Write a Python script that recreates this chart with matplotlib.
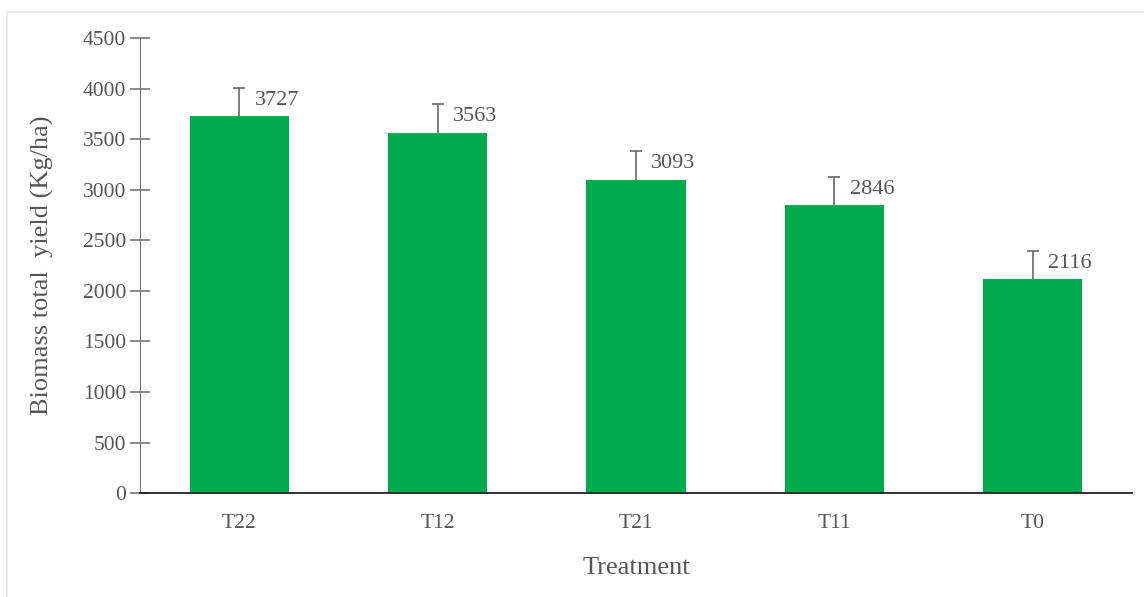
import numpy as np
import matplotlib
matplotlib.use('Agg')
from matplotlib import pyplot as plt
from matplotlib.patches import Rectangle

# data
treatments = ['T22', 'T12', 'T21', 'T11', 'T0']
yields = [3727, 3563, 3093, 2846, 2116]
errors = [280, 285, 290, 280, 280]

plt.rcParams['font.family'] = ['Liberation Serif', 'DejaVu Serif']
txt = '#555555'

fig = plt.figure(figsize=(11.44, 5.97), dpi=100)
ax = fig.add_axes([0.1224, 0.174, 0.8671, 0.762])

x = np.arange(len(treatments))
tops = np.array(yields) + np.array(errors)
ax.bar(x, yields, width=0.5, color='#00ab4e', zorder=2)
# upper error bars only
ax.vlines(x, yields, tops, color='#666666', linewidth=1.2, zorder=3)
ax.hlines(tops, x - 0.03, x + 0.03, color='#666666', linewidth=1.2, zorder=3)

for xi, v, t in zip(x, yields, tops):
    ax.annotate(str(v), (xi, t), xytext=(11, -9), textcoords='offset points',
                ha='left', va='center', fontsize=16, color=txt)

ax.set_xlim(-0.5, 4.5)
ax.set_ylim(0, 4500)
ax.set_yticks(np.arange(0, 4501, 500))
ax.set_xticks(x)
ax.set_xticklabels(treatments)

ax.spines['top'].set_visible(False)
ax.spines['right'].set_visible(False)
ax.spines['left'].set_color('#777777')
ax.spines['bottom'].set_color('#222222')
ax.spines['bottom'].set_linewidth(1.3)
ax.tick_params(axis='y', direction='inout', length=14, width=1.2, color='#777777',
               labelsize=15.5, labelcolor=txt, pad=3)
ax.tick_params(axis='x', length=0, labelsize=15.5, labelcolor=txt, pad=15)

ax.set_xlabel('Treatment', fontsize=19, color=txt)
ax.set_ylabel('Biomass total  yield (Kg/ha)', fontsize=19, color=txt)
ax.xaxis.set_label_coords(0.5, -0.14)
ax.yaxis.set_label_coords(-0.087, 0.5)

# light frame around the figure
fig.patches.append(Rectangle((0.006, -0.01), 1.2, 0.99, transform=fig.transFigure,
                             fill=False, edgecolor='#e6e6e6', linewidth=1.2))

fig.savefig('out.png', dpi=100)
